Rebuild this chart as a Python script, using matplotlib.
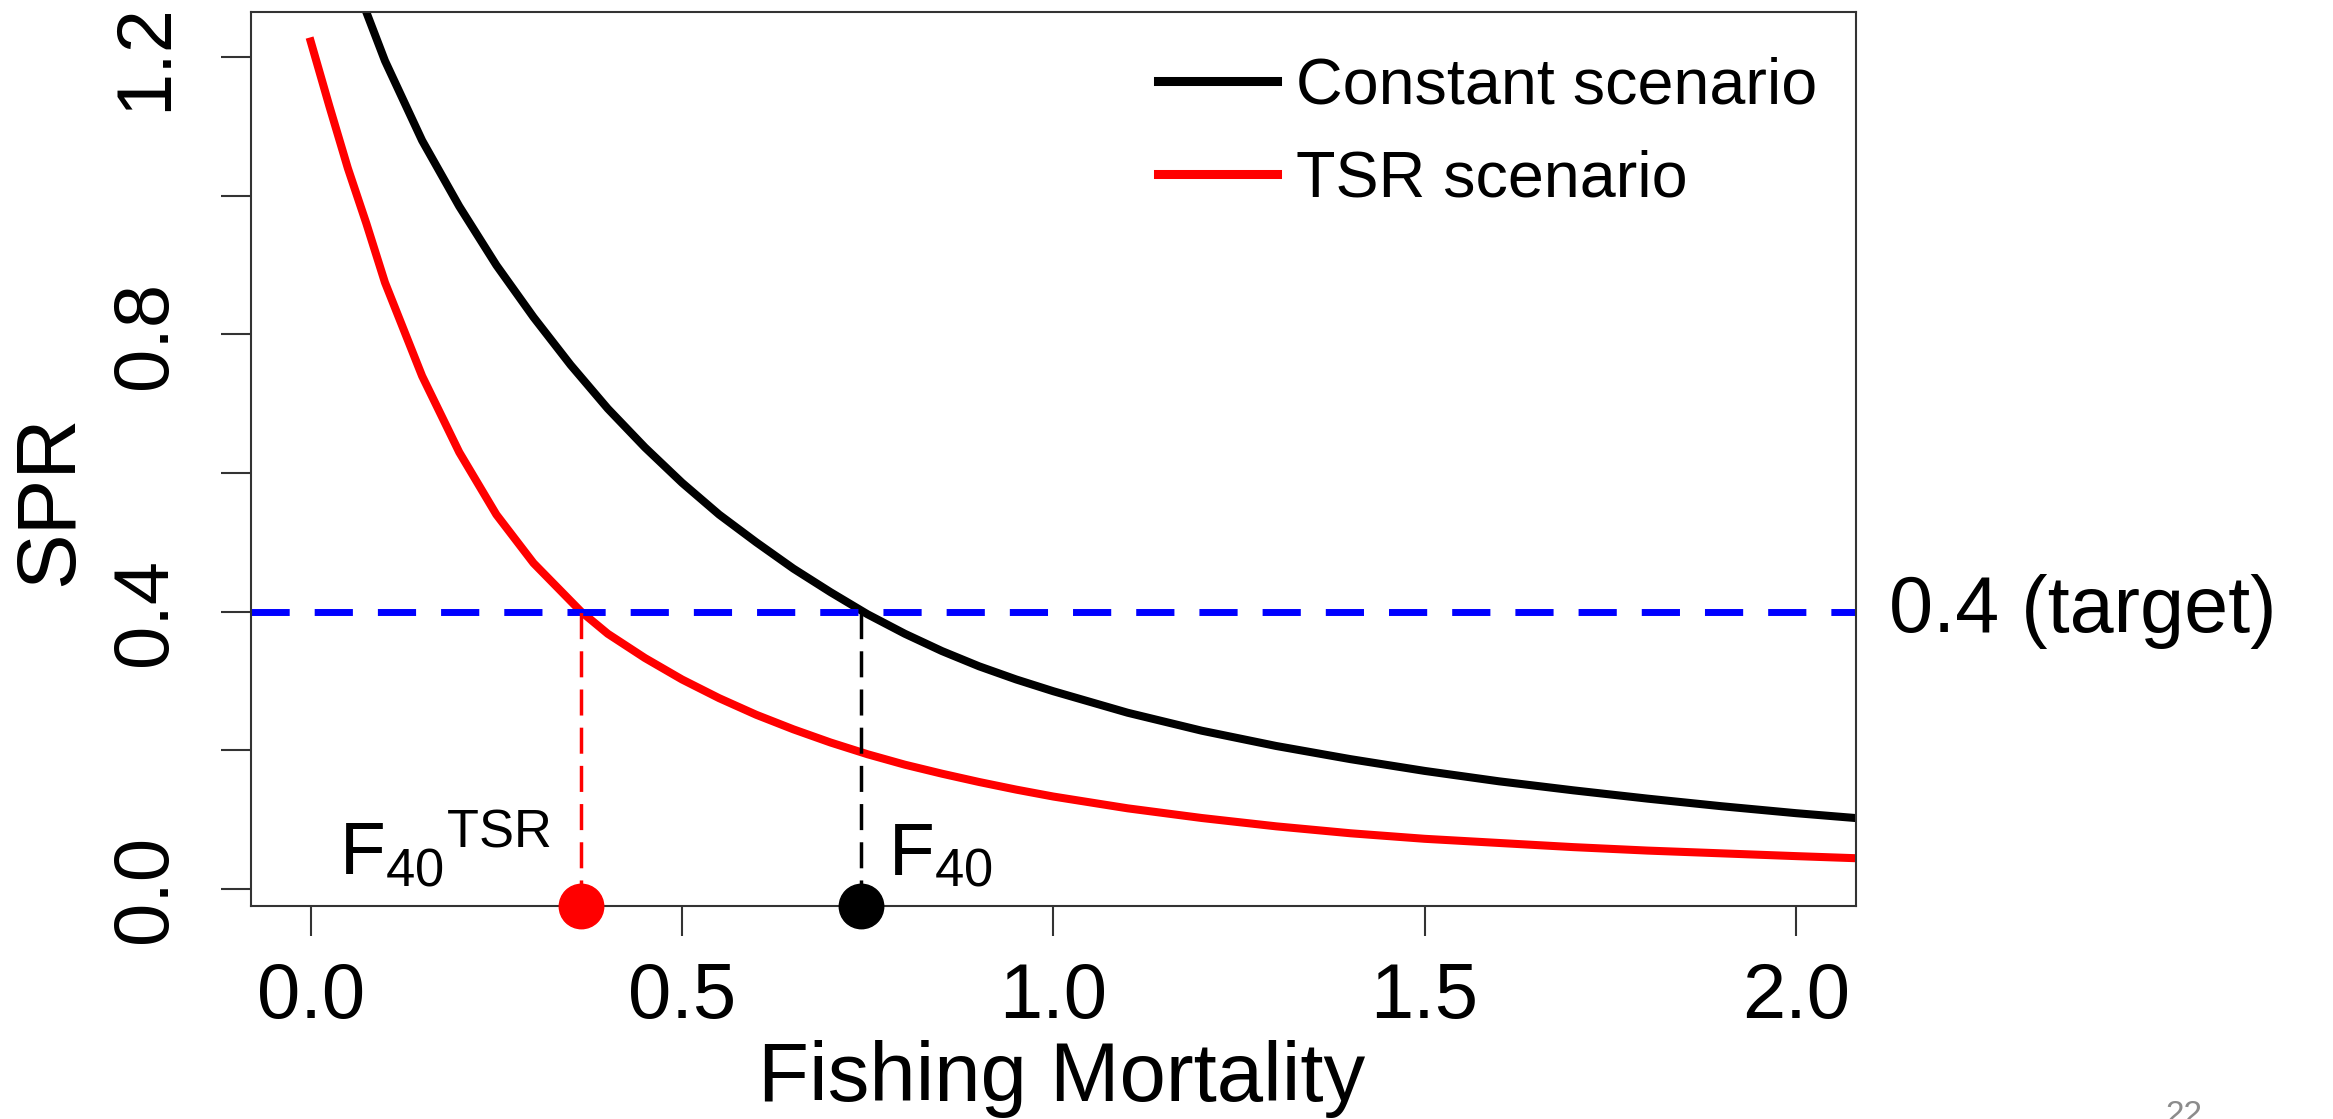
import numpy as np
import matplotlib.pyplot as plt

plt.rcParams['font.family'] = ['Liberation Sans', 'DejaVu Sans']
plt.rcParams['mathtext.fontset'] = 'custom'
plt.rcParams['mathtext.rm'] = 'Liberation Sans'
plt.rcParams['mathtext.it'] = 'Liberation Sans'

# SPR curves
F_const = [0.0, 0.05, 0.1, 0.15, 0.2, 0.25, 0.3, 0.35, 0.4, 0.45, 0.5, 0.55, 0.6, 0.65,
           0.7, 0.75, 0.8, 0.85, 0.9, 0.95, 1.0, 1.1, 1.2, 1.3, 1.4, 1.5, 1.6, 1.7,
           1.8, 1.9, 2.0, 2.08]
spr_const = [1.50, 1.335, 1.195, 1.08, 0.985, 0.90, 0.825, 0.756, 0.693, 0.637, 0.586, 0.54,
             0.50, 0.462, 0.428, 0.396, 0.368, 0.343, 0.321, 0.302, 0.285, 0.254, 0.228,
             0.206, 0.187, 0.17, 0.155, 0.142, 0.13, 0.119, 0.109, 0.102]

F_tsr = [0.0, 0.025, 0.05, 0.075, 0.1, 0.15, 0.2, 0.25, 0.3, 0.364, 0.4, 0.45, 0.5, 0.55,
         0.6, 0.65, 0.7, 0.75, 0.8, 0.85, 0.9, 0.95, 1.0, 1.1, 1.2, 1.3, 1.4, 1.5, 1.6,
         1.7, 1.8, 1.9, 2.0, 2.08]
spr_tsr = [1.223, 1.13, 1.04, 0.96, 0.875, 0.74, 0.63, 0.54, 0.47, 0.40, 0.368, 0.333, 0.302,
           0.275, 0.251, 0.23, 0.211, 0.194, 0.179, 0.166, 0.154, 0.143, 0.133, 0.116,
           0.102, 0.09, 0.08, 0.072, 0.066, 0.06, 0.055, 0.051, 0.047, 0.044]

target = 0.4
f40_tsr = 0.364
f40_const = 0.741

xticks = [0.0, 0.5, 1.0, 1.5, 2.0]
xticklabels = ['0.0', '0.5', '1.0', '1.5', '2.0']
yticks = [0.0, 0.2, 0.4, 0.6, 0.8, 1.0, 1.2]
yticklabels = ['0.0', '', '0.4', '', '0.8', '', '1.2']

xlim = (-0.0804, 2.0808)
ylim = (-0.025, 1.2655)

fig = plt.figure(figsize=(23.33, 11.19), dpi=100)
ax = fig.add_axes([251/2333, 1 - 906/1119, (1856-251)/2333, (906-12)/1119])

ax.plot(F_const, spr_const, color='black', lw=5.8, label='Constant scenario')
ax.plot(F_tsr, spr_tsr, color='red', lw=5.8, label='TSR scenario')
ax.axhline(target, color='blue', lw=5, dashes=(5.5, 3.6))

ax.plot([f40_tsr, f40_tsr], [ylim[0], target], color='red', lw=2.5, dashes=(7.5, 3.5))
ax.plot([f40_const, f40_const], [ylim[0], target], color='black', lw=2.5, dashes=(7.5, 3.5))
ax.plot([f40_tsr], [ylim[0]], 'o', color='red', ms=32, clip_on=False, zorder=5)
ax.plot([f40_const], [ylim[0]], 'o', color='black', ms=32, clip_on=False, zorder=5)

ax.text(0.323, 0.02, r'${\mathregular{F}_{40}}^{\mathregular{TSR}}$', fontsize=54,
        ha='right', va='baseline')
ax.text(0.777, 0.02, r'$\mathregular{F}_{40}$', fontsize=54, ha='left', va='baseline')

ax.annotate('0.4 (target)', xy=(1.0205, target), xycoords=('axes fraction', 'data'),
            fontsize=57, ha='left', va='center', annotation_clip=False)

ax.set_xlim(xlim)
ax.set_ylim(ylim)
ax.set_xticks(xticks)
ax.set_xticklabels(xticklabels)
ax.set_yticks(yticks)
ax.set_yticklabels(yticklabels, rotation=90, va='center')
ax.tick_params(length=21.6, width=1.5, color='#333333', labelsize=56)
ax.tick_params(axis='x', pad=18)
ax.tick_params(axis='y', pad=28)
for s in ax.spines.values():
    s.set_linewidth(1.5)
    s.set_color('#333333')

leg = ax.legend(loc='upper left', bbox_to_anchor=(1158/2333, 1 - 57/1119),
                bbox_transform=fig.transFigure, frameon=False, fontsize=46.5,
                handlelength=1.84, handletextpad=0.3, borderpad=0, labelspacing=0.5,
                borderaxespad=0)
for l in leg.get_lines():
    l.set_linewidth(6.5)

fig.text(1062/2333, 1 - 1101/1119, 'Fishing Mortality', fontsize=60, ha='center', va='baseline')
fig.text(50/2333, 1 - 500/1119, 'SPR', fontsize=60, rotation=90, ha='center', va='center')
fig.text(2184/2333, 1 - 1100/1119, '22', fontsize=24, color='#8c8c8c', ha='center', va='top')

fig.savefig('out.png', dpi=100)
